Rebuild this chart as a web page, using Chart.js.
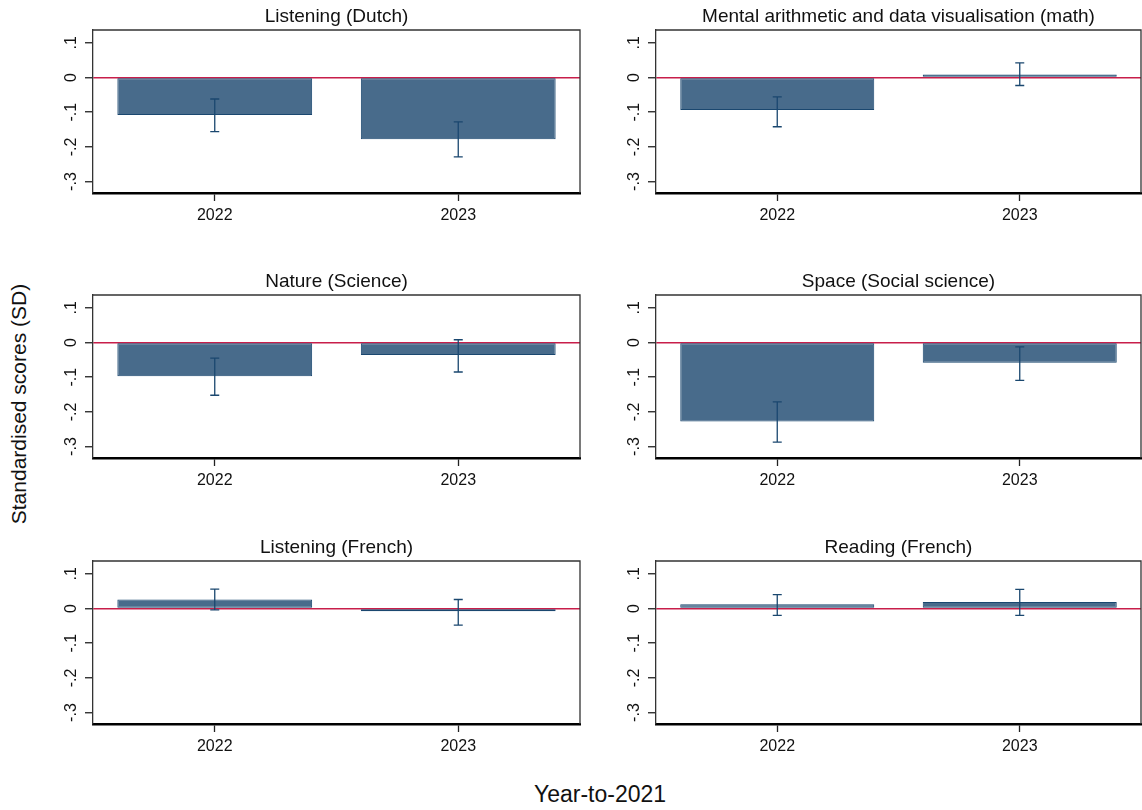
<!DOCTYPE html>
<html>
<head>
<meta charset="utf-8">
<title>Standardised scores by year</title>
<script src="https://cdn.jsdelivr.net/npm/chart.js@4.4.1/dist/chart.umd.min.js"></script>
<style>
  html, body { margin: 0; padding: 0; background: #fff; }
  body { width: 1142px; height: 810px; position: relative; overflow: hidden;
         font-family: 'Liberation Sans', Arial, sans-serif; }
  canvas { position: absolute; }
  .axis-title { position: absolute; color: #111; white-space: nowrap; line-height: 1; }
  #ytitle { font-size: 21px; left: 18px; top: 404px; transform: translate(-50%, -50%) rotate(-90deg); }
  #xtitle { font-size: 23px; left: 600px; top: 794px; transform: translate(-50%, -50%); }
</style>
</head>
<body>
<div id="ytitle" class="axis-title">Standardised scores (SD)</div>
<div id="xtitle" class="axis-title">Year-to-2021</div>
<script>
// Categories and panels
const years = ['2022', '2023'];
const subjects = [
  'Listening (Dutch)',
  'Mental arithmetic and data visualisation (math)',
  'Nature (Science)',
  'Space (Social science)',
  'Listening (French)',
  'Reading (French)'
];

// Point estimates (SD) per subject, same order as subjects
const effect2022 = [-0.108, -0.094, -0.097, -0.228, 0.026, 0.012];
const effect2023 = [-0.178, 0.009, -0.036, -0.058, -0.008, 0.019];

// Confidence interval bounds
const lower2022 = [-0.156, -0.142, -0.152, -0.287, -0.004, -0.020];
const upper2022 = [-0.062, -0.056, -0.045, -0.171, 0.056, 0.040];
const lower2023 = [-0.229, -0.023, -0.085, -0.109, -0.048, -0.020];
const upper2023 = [-0.128, 0.042, 0.008, -0.0125, 0.026, 0.055];

// Y axis ticks
const yTickValues = [-0.3, -0.2, -0.1, 0, 0.1];
const yTickLabels = ['-.3', '-.2', '-.1', '0', '.1'];
const yMin = -0.333;
const yMax = 0.137;

// Panel grid layout (pixels)
const colLeft = [93, 656];
const colWidth = [487, 485];
const rowTop = [30, 295, 561];
const plotHeight = 163;
const AXIS_W = 60, TITLE_H = 30, XAXIS_H = 35;

const FONT = "'Liberation Sans', Arial, sans-serif";
const BAR_FILL = '#486b8b';
const BAR_EDGE = '#1a476f';
const ZERO_LINE = '#c81e4a';

// Draws confidence-interval whiskers on top of the bars
const errorBars = {
  id: 'errorBars',
  afterDatasetsDraw(chart, args, opts) {
    const { ctx } = chart;
    const y = chart.scales.y;
    const meta = chart.getDatasetMeta(0);
    ctx.save();
    ctx.strokeStyle = opts.color;
    ctx.lineWidth = opts.width;
    opts.low.forEach((lo, i) => {
      const x = meta.data[i].x;
      const y1 = y.getPixelForValue(lo);
      const y2 = y.getPixelForValue(opts.high[i]);
      ctx.beginPath();
      ctx.moveTo(x, y1); ctx.lineTo(x, y2);
      ctx.moveTo(x - opts.cap, y1); ctx.lineTo(x + opts.cap, y1);
      ctx.moveTo(x - opts.cap, y2); ctx.lineTo(x + opts.cap, y2);
      ctx.stroke();
    });
    ctx.restore();
  }
};

// Top and right edges of the plot frame
const frame = {
  id: 'frame',
  afterDraw(chart) {
    const { ctx, chartArea: a } = chart;
    ctx.save();
    ctx.strokeStyle = '#333';
    ctx.lineWidth = 1.3;
    ctx.beginPath();
    ctx.moveTo(a.left, a.top);
    ctx.lineTo(a.right, a.top);
    ctx.lineTo(a.right, a.bottom);
    ctx.stroke();
    ctx.restore();
  }
};

subjects.forEach((subject, k) => {
  const col = k % 2, row = Math.floor(k / 2);
  const rightPad = col === 0 ? 2 : 1;
  const canvas = document.createElement('canvas');
  const w = AXIS_W + colWidth[col] + rightPad;
  const h = TITLE_H + plotHeight + XAXIS_H;
  canvas.width = w; canvas.height = h;
  canvas.style.width = w + 'px'; canvas.style.height = h + 'px';
  canvas.style.left = (colLeft[col] - AXIS_W) + 'px';
  canvas.style.top = (rowTop[row] - TITLE_H) + 'px';
  document.body.appendChild(canvas);

  new Chart(canvas, {
    type: 'bar',
    data: {
      labels: years,
      datasets: [{
        data: [effect2022[k], effect2023[k]],
        backgroundColor: BAR_FILL,
        borderColor: BAR_EDGE,
        borderWidth: 1,
        borderSkipped: false,
        categoryPercentage: 1,
        barPercentage: 0.8
      }]
    },
    options: {
      responsive: false,
      animation: false,
      devicePixelRatio: 1,
      layout: { padding: { left: 0, right: rightPad, top: 0, bottom: 0 } },
      plugins: {
        legend: { display: false },
        tooltip: { enabled: false },
        title: {
          display: true,
          text: subject,
          fullSize: false,
          color: '#111',
          font: { family: FONT, size: 19, weight: 'normal', lineHeight: 1.2 },
          padding: { top: 5.4, bottom: 1.8 }
        },
        errorBars: {
          low: [lower2022[k], lower2023[k]],
          high: [upper2022[k], upper2023[k]],
          color: BAR_EDGE,
          width: 1.3,
          cap: 4.5
        }
      },
      scales: {
        x: {
          offset: true,
          grid: { offset: false, drawOnChartArea: false, tickLength: 8, tickColor: '#222', tickWidth: 1.3 },
          border: { color: '#000', width: 2.5 },
          ticks: { color: '#111', font: { family: FONT, size: 16 }, padding: 5, maxRotation: 0 },
          afterFit: s => { s.height = XAXIS_H; }
        },
        y: {
          min: yMin,
          max: yMax,
          afterBuildTicks: s => { s.ticks = yTickValues.map(v => ({ value: v })); },
          ticks: {
            callback: v => yTickLabels[yTickValues.indexOf(v)],
            minRotation: 90,
            maxRotation: 90,
            crossAlign: 'center',
            padding: 4,
            color: '#111',
            font: { family: FONT, size: 16 }
          },
          grid: {
            color: c => (c.tick && c.tick.value === 0 ? ZERO_LINE : 'rgba(0,0,0,0)'),
            lineWidth: 1.5,
            tickColor: '#222',
            tickLength: 8,
            tickWidth: 1.3
          },
          border: { color: '#333', width: 1.3 },
          afterFit: s => { s.width = AXIS_W; }
        }
      }
    },
    plugins: [errorBars, frame]
  });
});
</script>
</body>
</html>
